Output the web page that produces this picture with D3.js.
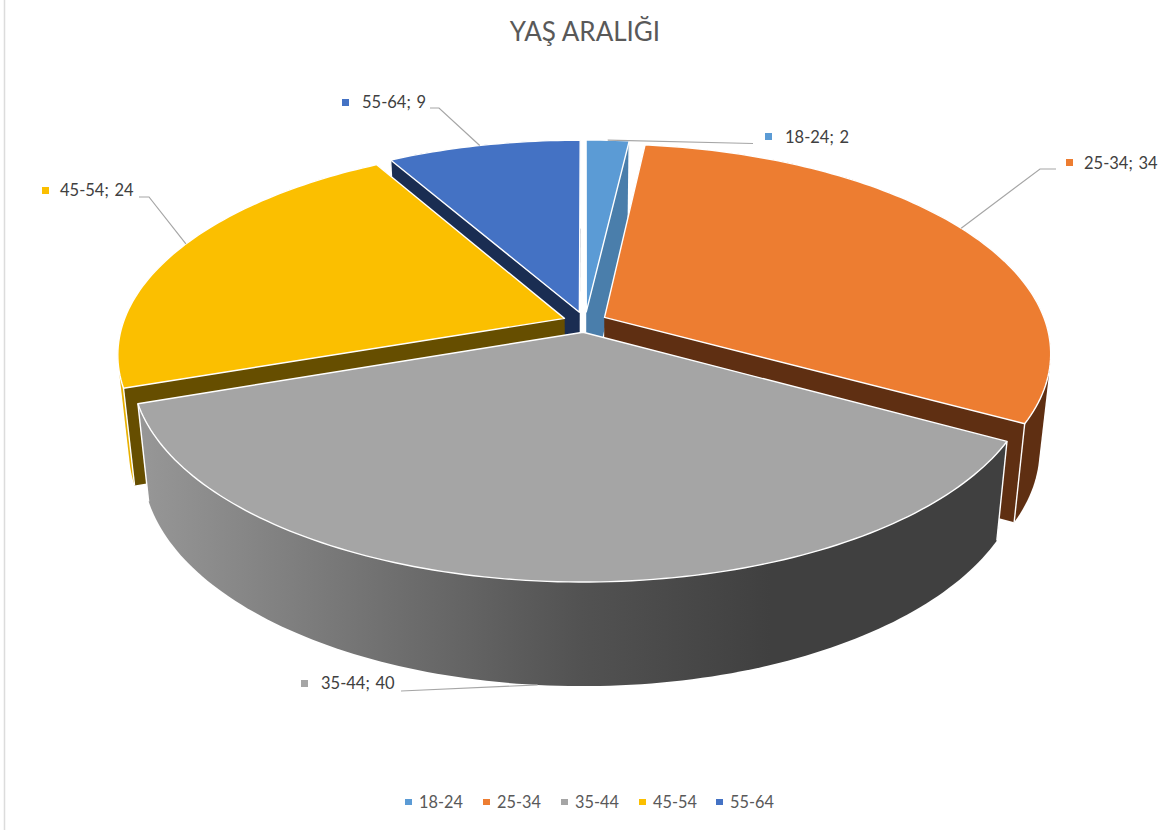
<!DOCTYPE html>
<html><head><meta charset="utf-8">
<script src="https://cdn.jsdelivr.net/npm/d3@7/dist/d3.min.js"></script>
<style>html,body{margin:0;padding:0;background:#fff}svg{display:block}</style>
</head><body><svg id="c" width="1162" height="830"></svg>
<script>
const categories = ["18-24","25-34","35-44","45-54","55-64"];
const values = [2,34,40,24,9];
const topColors = ["#5b9bd5","#ed7d31","#a5a5a5","#fbbf00","#4472c4"];
const wallColors = ["#4a7eab","#5f2f12","url(#greyWall)","#664e00","#1a2d52"];
const outerColors = ["#4a7eab","#5f2f12","url(#greyWall)","#e8b000","#1a2d52"];
const drawOrder = [0,4,1,3,2];
const title = "YAŞ ARALIĞI";

const W = 1162, H = 830;
const svg = d3.select("#c");
const FONT = "Lato, 'Open Sans', sans-serif";

// 3D perspective camera for the tilted pie
const cx = 585, cy = 322, Rx = 441, Ky = 204, persp = 0.168, explode = 0.05;
const bottomX = 0.976, bottomY = 1.035, bottomCy = 417;

function top3d(a, r, e, mid){
  const u = r*Math.sin(a) + e*Math.sin(mid);
  const v = r*Math.cos(a) + e*Math.cos(mid);
  const s = 1/(1+v*persp);
  return [cx + u*Rx*s, cy - v*Ky*s];
}
const lower = p => [cx + (p[0]-cx)*bottomX, bottomCy + (p[1]-cy)*bottomY];

const defs = svg.append("defs");
const grad = defs.append("linearGradient").attr("id","greyWall")
  .attr("gradientUnits","userSpaceOnUse").attr("x1",140).attr("x2",770).attr("y1",0).attr("y2",0);
[[0,"#979797"],[0.35,"#747474"],[0.7,"#525252"],[1,"#404040"]].forEach(d=>grad.append("stop").attr("offset",d[0]).attr("stop-color",d[1]));

svg.append("line").attr("x1",4.5).attr("x2",4.5).attr("y1",0).attr("y2",H).attr("stroke","#dcdcdc").attr("stroke-width",1.5);

const arcs = d3.pie().sort(null).value(d=>d)(values);
const line = d3.line();
const closed = pts => line(pts)+"Z";

drawOrder.forEach(i=>{
  const d = arcs[i], mid = (d.startAngle+d.endAngle)/2;
  const n = Math.max(4, Math.ceil((d.endAngle-d.startAngle)/0.02));
  const rim = d3.range(n+1).map(k=>top3d(d.startAngle+(d.endAngle-d.startAngle)*k/n,1,explode,mid));
  const apex = top3d(0,0,explode,mid);
  const g = svg.append("g");
  // outer wall: hull of both rims; its inner part is covered by the top face
  g.append("path").attr("d",closed(d3.polygonHull(rim.concat(rim.map(lower))))).attr("fill",outerColors[i]);
  // radial walls
  [rim[0], rim[n]].forEach(c=>{
    g.append("path").attr("d",closed([apex,c,lower(c),lower(apex)])).attr("fill",wallColors[i]);
  });
  // white corner edges
  [rim[0], rim[n]].forEach(c=>{
    g.append("path").attr("d",line([c,lower(c)])).attr("stroke","#fff").attr("stroke-width",1.4).attr("fill","none");
  });
  // top face
  g.append("path").attr("d",closed([apex].concat(rim))).attr("fill",topColors[i]).attr("stroke","#fff").attr("stroke-width",1.4).attr("stroke-linejoin","round");
});

// leader lines: start point on the pie is derived from the slice; elbow and end belong to the label layout
const leaderLayout = [
  {frac:0.5, onBottom:false, pts:[[753,143.5]]},
  {frac:0.49, onBottom:false, pts:[[1040,169],[1056,169]]},
  {frac:0.5, onBottom:true,  pts:[[401,691]]},
  {frac:0.53, onBottom:false, pts:[[149,197],[139,197]]},
  {frac:0.48, onBottom:false, pts:[[439,108],[430,108]]}
];
arcs.forEach((d,i)=>{
  const L = leaderLayout[i], mid=(d.startAngle+d.endAngle)/2;
  const a = d.startAngle+(d.endAngle-d.startAngle)*L.frac;
  let p = top3d(a,1,explode,mid);
  if(L.onBottom) p = lower(p);
  svg.append("path").attr("d",line([p].concat(L.pts))).attr("fill","none").attr("stroke","#a6a6a6").attr("stroke-width",1.2);
});

// data labels
const labelPos = [[785,143],[1084,169],[321,689],[60,196],[362,108]];
const markerPos = [[765,133],[1066,159],[301,680],[42,187],[342,99]];
categories.forEach((c,i)=>{
  svg.append("rect").attr("x",markerPos[i][0]).attr("y",markerPos[i][1]).attr("width",7).attr("height",7).attr("fill",topColors[i]);
  svg.append("text").attr("x",labelPos[i][0]).attr("y",labelPos[i][1]).attr("font-family",FONT).attr("font-size",16.5).attr("word-spacing",1.5).attr("fill","#404040").text(`${c}; ${values[i]}`);
});

// title
svg.append("text").attr("x",585).attr("y",41).attr("text-anchor","middle").attr("font-family",FONT).attr("font-size",26).attr("fill","#595959").text(title);

// legend
const legendMarker = [405,483,561,639,716];
categories.forEach((c,i)=>{
  svg.append("rect").attr("x",legendMarker[i]).attr("y",799).attr("width",7).attr("height",6).attr("fill",topColors[i]);
  svg.append("text").attr("x",legendMarker[i]+14).attr("y",807.5).attr("font-family",FONT).attr("font-size",16.3).attr("fill","#595959").text(c);
});
</script></body></html>
